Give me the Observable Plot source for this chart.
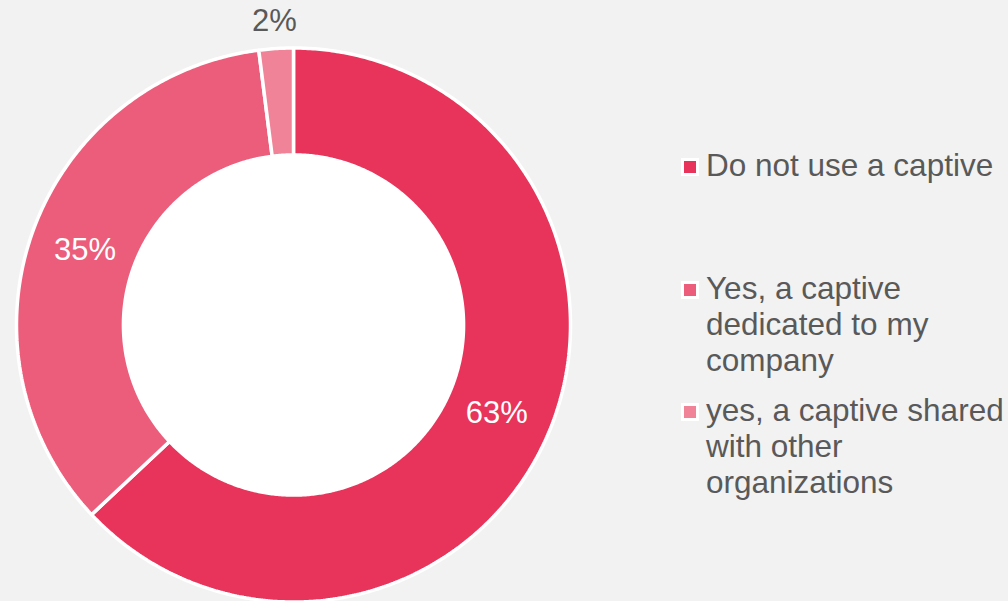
<!DOCTYPE html>
<html>
<head>
<meta charset="utf-8">
<script src="https://cdn.jsdelivr.net/npm/d3@7"></script>
<script src="https://cdn.jsdelivr.net/npm/@observablehq/plot@0.6"></script>
<style>
  html, body { margin: 0; padding: 0; background: #F2F2F2; }
  #wrap { position: relative; width: 1008px; height: 601px; overflow: hidden; background: #F2F2F2; font-family: "Liberation Sans", Arial, sans-serif; }
  #chart { position: absolute; left: 0; top: 0; }
  .row { position: absolute; left: 681px; width: 327px; }
  .sw { position: absolute; left: 0; top: 11px; width: 18px; height: 18px; box-sizing: border-box; border: 3px solid #fff; }
  .lt { position: absolute; left: 25px; top: 0; white-space: nowrap; font-size: 31.5px; line-height: 36px; color: #595959; }
</style>
</head>
<body>
<div id="wrap"><div id="chart"></div><div id="legend"></div></div>
<script>
// ---- data ----
const categories = ["Do not use a captive", "Yes, a captive dedicated to my company", "yes, a captive shared with other organizations"];
const values = [63, 35, 2];
const colors = ["#E8345B", "#EB5D7B", "#F08398"];
const legendLines = [
  ["Do not use a captive"],
  ["Yes, a captive", "dedicated to my", "company"],
  ["yes, a captive shared", "with other", "organizations"]
];

// ---- geometry (normalized units, outer radius = 1) ----
const innerR = 0.614;
const total = d3.sum(values);
const slices = [];
let acc = 0;
values.forEach((v, i) => {
  const a0 = acc / total * 2 * Math.PI;
  acc += v;
  const a1 = acc / total * 2 * Math.PI;
  slices.push({cat: categories[i], value: v, a0, a1, mid: (a0 + a1) / 2});
});

const polys = [];
for (const s of slices) {
  const n = Math.max(4, Math.ceil((s.a1 - s.a0) / (Math.PI / 360)));
  const pts = [];
  for (let k = 0; k <= n; k++) {
    const a = s.a0 + (s.a1 - s.a0) * k / n;
    pts.push({cat: s.cat, x: Math.sin(a), y: Math.cos(a)});
  }
  for (let k = n; k >= 0; k--) {
    const a = s.a0 + (s.a1 - s.a0) * k / n;
    pts.push({cat: s.cat, x: innerR * Math.sin(a), y: innerR * Math.cos(a)});
  }
  pts.push({...pts[0]});
  polys.push(...pts);
}
const hole = d3.range(0, 721).map(k => {
  const a = k / 720 * 2 * Math.PI;
  return {x: innerR * Math.sin(a), y: innerR * Math.cos(a)};
});

const labels = slices.map(s => {
  const r = s.value < 5 ? 1.1 : 0.8;
  return {x: r * Math.sin(s.mid), y: r * Math.cos(s.mid), text: s.value + "%", outside: s.value < 5};
});

const cx = 293, cy = 324.5, R = 277;
const plot = Plot.plot({
  width: 1008,
  height: 601,
  margin: 0,
  style: {background: "transparent", fontFamily: "'Liberation Sans', Arial, sans-serif", overflow: "visible"},
  x: {domain: [-1, 1], range: [cx - R, cx + R], axis: null},
  y: {domain: [-1, 1], range: [cy + R, cy - R], axis: null},
  color: {domain: categories, range: colors},
  marks: [
    Plot.line(polys, {x: "x", y: "y", z: "cat", fill: "cat", stroke: "white", strokeWidth: 3.5, strokeLinejoin: "miter", curve: "linear"}),
    Plot.line(hole, {x: "x", y: "y", fill: "white", stroke: "white", strokeWidth: 1}),
    Plot.text(labels, {x: "x", y: "y", text: "text", fontSize: 31, fill: d => d.outside ? "#595959" : "white"})
  ]
});
document.getElementById("chart").appendChild(plot);

// ---- legend ----
const legend = document.getElementById("legend");
legendLines.forEach((lines, i) => {
  const row = document.createElement("div");
  row.className = "row";
  row.style.top = (147 + i * 122.5) + "px";
  const sw = document.createElement("div");
  sw.className = "sw";
  sw.style.background = colors[i];
  const lt = document.createElement("div");
  lt.className = "lt";
  lt.innerHTML = lines.join("<br>");
  row.appendChild(sw);
  row.appendChild(lt);
  legend.appendChild(row);
});
</script>
</body>
</html>
